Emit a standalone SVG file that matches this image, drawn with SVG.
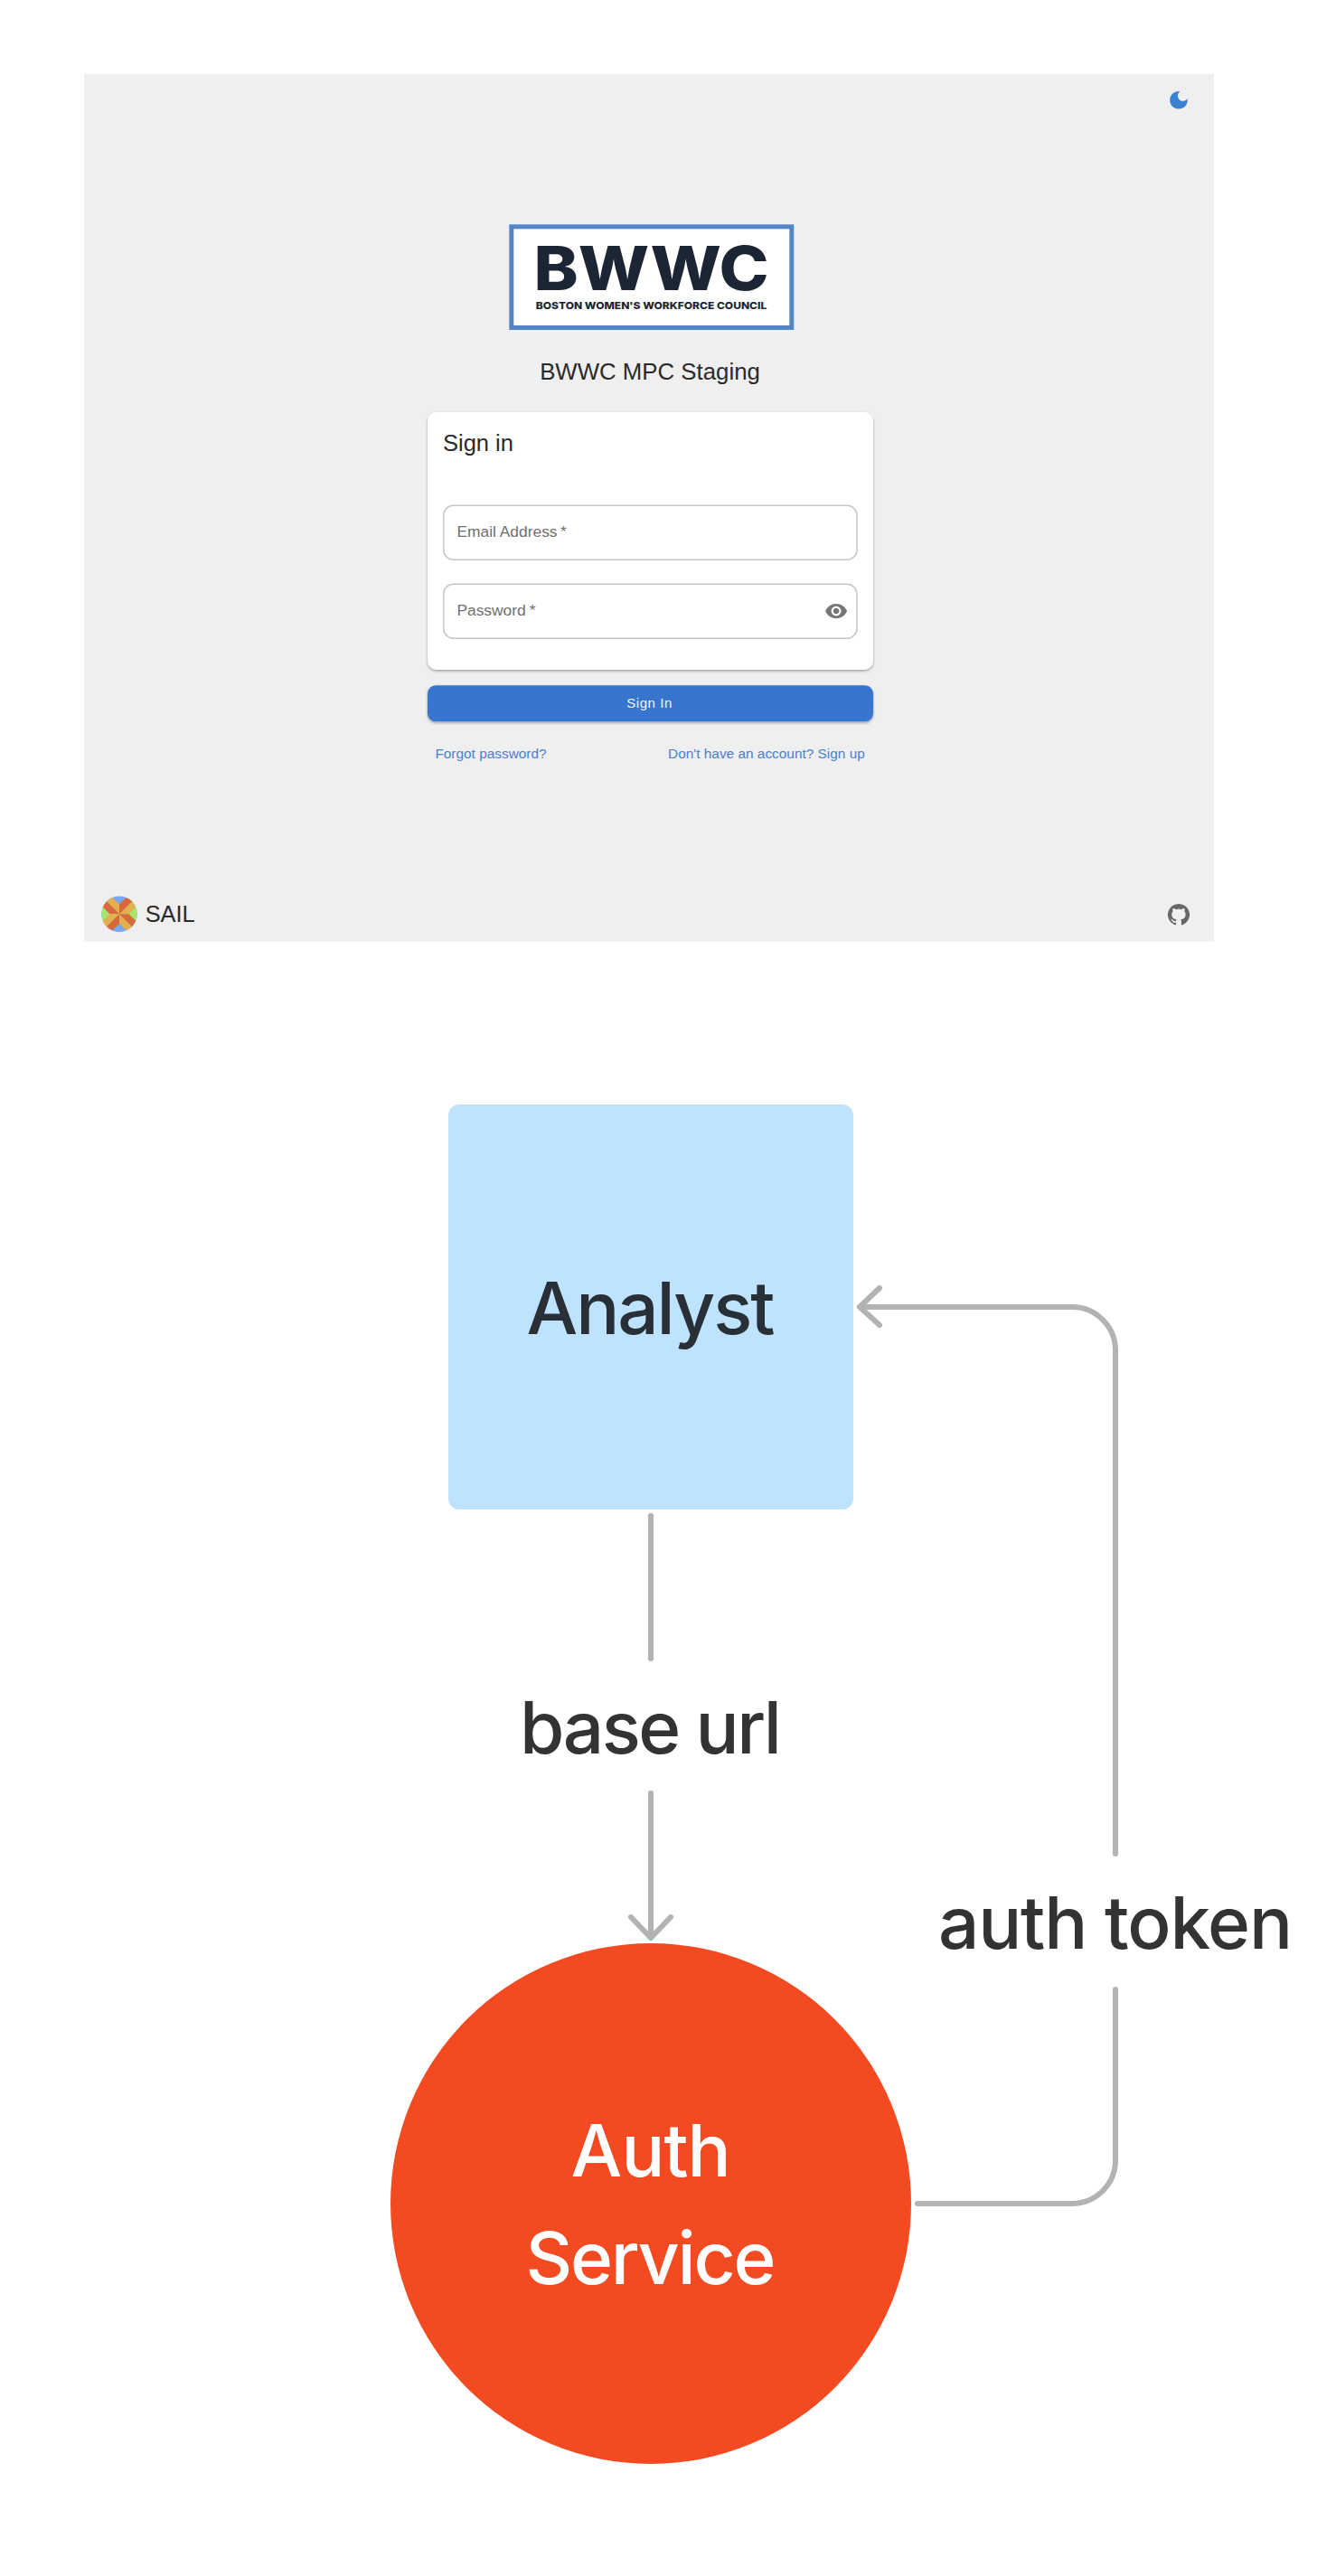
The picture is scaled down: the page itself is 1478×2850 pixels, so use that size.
<svg xmlns="http://www.w3.org/2000/svg" width="1478" height="2850" viewBox="0 0 1478 2850">
<defs>
<style>
.ui{font-family:"Liberation Sans",Arial,sans-serif}
.big{font-family:Inter,"Noto Sans",sans-serif;font-size:80px;text-anchor:middle;font-weight:450}
.logo{font-family:Inter,"Liberation Sans",sans-serif;font-weight:800;fill:#1c2533}
.conn{fill:none;stroke:#b3b3b3;stroke-width:6;stroke-linecap:round;stroke-linejoin:round}
.field{fill:#fff;stroke:#c6c6c6;stroke-width:1.5}
.hint{font-size:17.4px;fill:#707070}
.link{font-size:15.4px;fill:#4a80d4}
</style>
<filter id="sh" x="-5%" y="-5%" width="110%" height="115%"><feDropShadow dx="0" dy="1.5" stdDeviation="1.5" flood-color="#000" flood-opacity="0.35"/></filter>
<clipPath id="sailclip"><circle cx="132" cy="1011.2" r="19.7"/></clipPath>
<g id="arm"><path d="M0 0L7.500-7.500V-24H0Z" fill="#e3b04f"/><path d="M0 0L-7.500-7.500V-24H0Z" fill="#d9683a"/></g>
</defs>
<rect width="1478" height="2850" fill="#fff"/>
<g id="screenshot">
<rect x="93" y="82" width="1250" height="959.500" fill="#efefef"/>
<g id="moon"><path transform="translate(1290.900,97.700) scale(1.09)" fill="#3a82d2" d="M12 3c-4.970 0-9 4.030-9 9s4.030 9 9 9 9-4.030 9-9c0-.460-.040-.920-.100-1.360-.980 1.370-2.580 2.260-4.400 2.260-2.980 0-5.400-2.420-5.400-5.400 0-1.810.890-3.420 2.260-4.400-.440-.060-.900-.100-1.360-.100z"/></g>
<g id="logo">
<rect x="565.800" y="250.800" width="310" height="111.700" fill="#fff" stroke="#5585c5" stroke-width="5"/>
<text class="logo" x="590.500" y="321" font-size="67" textLength="260" lengthAdjust="spacingAndGlyphs">BWWC</text>
<text class="logo" x="592.700" y="342.300" font-size="11" textLength="255.600" lengthAdjust="spacingAndGlyphs">BOSTON WOMEN'S WORKFORCE COUNCIL</text>
</g>
<text class="ui" x="719" y="420" font-size="25.800" fill="#2a2a2a" text-anchor="middle">BWWC MPC Staging</text>
<g id="card">
<rect x="473" y="456" width="493" height="285" rx="10" fill="#fff" filter="url(#sh)"/>
<text class="ui" x="490" y="498.500" font-size="25.500" fill="#2a2a2a">Sign in</text>
</g>
<g id="email-field">
<rect class="field" x="490.700" y="559.300" width="457.300" height="60" rx="11"/>
<text class="ui hint" x="505.400" y="594">Email Address</text>
<text class="ui hint" x="620" y="594">*</text>
</g>
<g id="password-field">
<rect class="field" x="490.700" y="646.300" width="457.300" height="60" rx="11"/>
<text class="ui hint" x="505.400" y="680.700">Password</text>
<text class="ui hint" x="585.700" y="680.700">*</text>
<path transform="translate(912,663) scale(1.09)" fill="#757575" d="M12 4.500C7 4.500 2.730 7.610 1 12c1.730 4.390 6 7.500 11 7.500s9.270-3.110 11-7.500c-1.730-4.390-6-7.500-11-7.500zM12 17c-2.760 0-5-2.240-5-5s2.240-5 5-5 5 2.240 5 5-2.240 5-5 5zm0-8c-1.660 0-3 1.340-3 3s1.340 3 3 3 3-1.340 3-3-1.340-3-3-3z"/>
</g>
<g id="signin-button">
<rect x="473" y="758.300" width="493" height="40" rx="9" fill="#3874cf" filter="url(#sh)"/>
<text class="ui" x="718.600" y="783" font-size="15" letter-spacing="0.600" fill="#f2f6fc" text-anchor="middle">Sign In</text>
</g>
<text class="ui link" x="481.400" y="839">Forgot password?</text>
<text class="ui link" x="956.800" y="839" text-anchor="end">Don't have an account? Sign up</text>
<g id="sail">
<g clip-path="url(#sailclip)">
<rect x="110" y="990" width="44" height="44" fill="#7aa7f5"/>
<path d="M132 1011.200L108 987.200V1035.200ZM132 1011.200L156 987.200V1035.200Z" fill="#a5e66f"/>
<use href="#arm" transform="translate(132 1011.200) rotate(-45)"/>
<use href="#arm" transform="translate(132 1011.200) rotate(45)"/>
<use href="#arm" transform="translate(132 1011.200) rotate(135)"/>
<use href="#arm" transform="translate(132 1011.200) rotate(225)"/>
</g>
<text class="ui" x="160.700" y="1020" font-size="25.400" fill="#2a2a2a">SAIL</text>
</g>
<g id="github"><path transform="translate(1290.900,998.600) scale(1.09)" fill="#666" d="M12 1.270a11 11 0 00-3.480 21.460c.550.090.730-.280.730-.550v-1.840c-3.030.640-3.670-1.460-3.670-1.460-.550-1.290-1.280-1.650-1.280-1.650-.920-.650.100-.650.100-.650 1.100 0 1.730 1.100 1.730 1.100.920 1.650 2.570 1.200 3.210.920a2 2 0 01.640-1.470c-2.470-.270-5.040-1.190-5.040-5.500 0-1.100.460-2.100 1.200-2.840a3.760 3.760 0 010-2.930s.910-.280 3.110 1.100c1.800-.490 3.700-.490 5.500 0 2.100-1.380 3.020-1.100 3.020-1.100a3.760 3.760 0 010 2.930c.830.740 1.200 1.740 1.200 2.940 0 4.210-2.570 5.130-5.040 5.400.450.370.820.920.820 2.020v3.030c0 .270.100.640.730.550A11 11 0 0012 1.270"/></g>
</g>
<g id="connectors">
<path class="conn" d="M720 1677V1835"/>
<path class="conn" d="M720 1984V2144M698 2121L720 2144L742 2121"/>
<path class="conn" d="M1015 2438H1186A48 48 0 0 0 1234 2390V2201"/>
<path class="conn" d="M1234 2051V1494A48 48 0 0 0 1186 1446H951M973 1425L951 1446L973 1466"/>
</g>
<g id="label-base-url"><text class="big" x="720" y="1940" fill="#333" textLength="290">base url</text></g>
<g id="label-auth-token"><text class="big" x="1234" y="2156" fill="#333" textLength="392">auth token</text></g>
<g id="analyst">
<rect x="496" y="1222" width="448" height="448" rx="12" fill="#bee3fe"/>
<text class="big" x="720" y="1476" fill="#282f36" textLength="275">Analyst</text>
</g>
<g id="auth-service">
<circle cx="720" cy="2438" r="288" fill="#f44a22"/>
<text class="big" x="720" y="2408" fill="#fff" textLength="177">Auth</text>
<text class="big" x="720" y="2527" fill="#fff" textLength="277">Service</text>
</g>
</svg>
